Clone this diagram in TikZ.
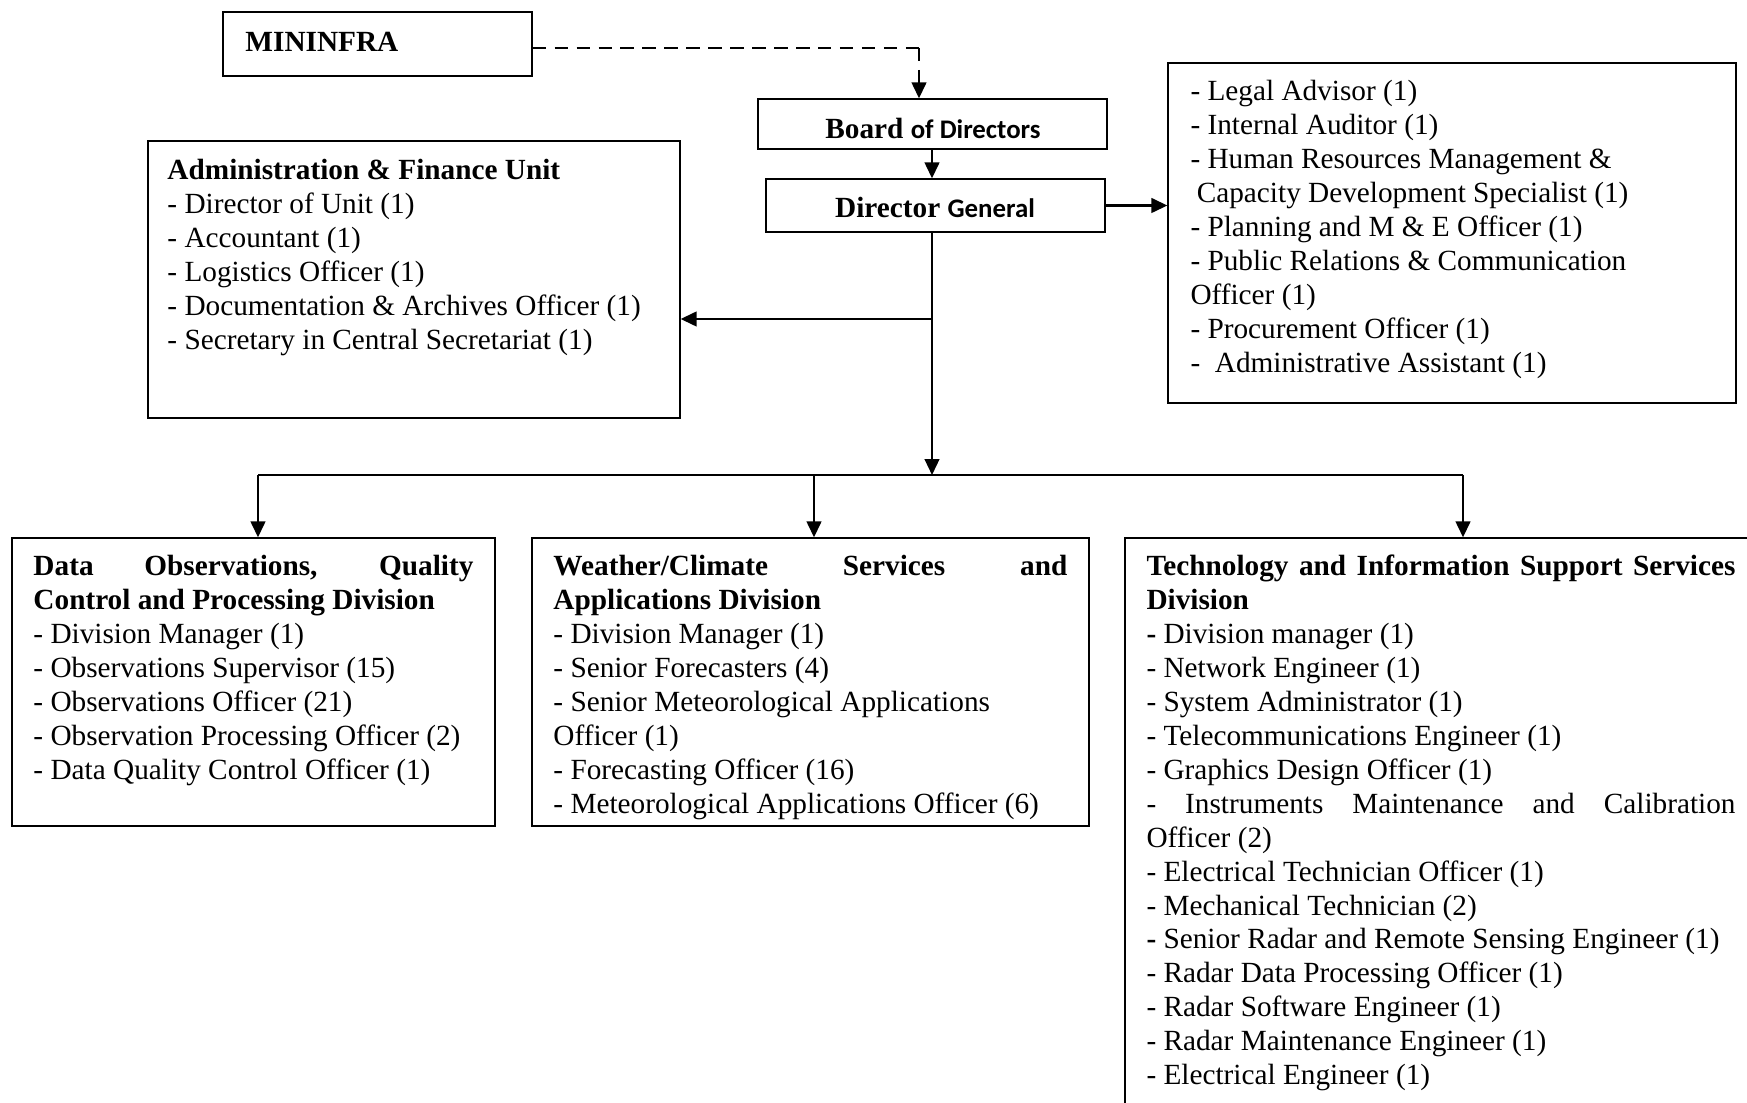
\documentclass[tikz,border=0pt]{standalone}
\usepackage{fontspec}
\setmainfont{Liberation Serif}
\newfontfamily\calib{Carlito}
\usetikzlibrary{arrows.meta,fit}
\newcommand{\jline}[1]{\makebox[\linewidth][s]{#1}}
\begin{document}
\begin{tikzpicture}[x=0.41pt,y=-0.41pt,
  every node/.style={font=\fontsize{12pt}{13.9pt}\selectfont},
  box/.style={draw,line width=0.55pt,inner sep=0pt},
  conn/.style={line width=0.85pt},
  arr/.style={conn,-{Triangle[length=6.5pt,width=6pt]}},
  txt/.style={anchor=base west,inner sep=0pt},
  ctxt/.style={anchor=base,inner sep=0pt},
]
\useasboundingbox (0,0) rectangle (1747,1103);
\clip (0,0) rectangle (1747,1103);

% boxes
\node[box,fit={(223,12) (532,76)}] (mininfra) {};
\node[box,fit={(758,99) (1107,149)}] (board) {};
\node[box,fit={(766,179) (1105,232)}] (dg) {};
\node[box,fit={(148,141) (680,418)}] (admin) {};
\node[box,fit={(1168,63) (1736,403)}] (staff) {};
\node[box,fit={(12,538) (495,826)}] (obs) {};
\node[box,fit={(532,538) (1089,826)}] (wcs) {};
\node[box,fit={(1125,538) (1770,1130)}] (tis) {};

% texts
\node[txt] (tmin) at (245,52) {\textbf{MININFRA}};
\node[ctxt] (tboard) at (933,139) {\textbf{Board} {\calib\bfseries\fontsize{11pt}{13pt}\selectfont of Directors}};
\node[ctxt] (tdg) at (935,218) {\textbf{Director} {\calib\bfseries\fontsize{11pt}{13pt}\selectfont General}};

\node[txt] (tadmin) at (167,179.5) {\parbox[t]{210pt}{%
\textbf{Administration \& Finance Unit}\\
- Director of Unit (1)\\
- Accountant (1)\\
- Logistics Officer (1)\\
- Documentation \& Archives Officer (1)\\
- Secretary in Central Secretariat (1)}};

\node[txt] (tstaff) at (1190,101) {\parbox[t]{225pt}{%
- Legal Advisor (1)\\
- Internal Auditor (1)\\
- Human Resources Management \&\\
\hspace*{2.6pt}Capacity Development Specialist (1)\\
- Planning and M \& E Officer (1)\\
- Public Relations \& Communication\\
Officer (1)\\
- Procurement Officer (1)\\
-\ \ Administrative Assistant (1)}};

\node[txt] (tobs) at (33,576) {\parbox[t]{180.4pt}{%
\textbf{\jline{Data Observations, Quality}}\\
\textbf{Control and Processing Division}\\
- Division Manager (1)\\
- Observations Supervisor (15)\\
- Observations Officer (21)\\
- Observation Processing Officer (2)\\
- Data Quality Control Officer (1)}};

\node[txt] (twcs) at (553,576) {\parbox[t]{210.7pt}{%
\textbf{\jline{Weather/Climate Services and}}\\
\textbf{Applications Division}\\
- Division Manager (1)\\
- Senior Forecasters (4)\\
- Senior Meteorological Applications\\
Officer (1)\\
- Forecasting Officer (16)\\
- Meteorological Applications Officer (6)}};

\node[txt] (ttis) at (1146,576) {\parbox[t]{241.5pt}{%
\textbf{\jline{Technology and Information Support Services}}\\
\textbf{Division}\\
\textbf{-} Division manager (1)\\
- Network Engineer (1)\\
- System Administrator (1)\\
- Telecommunications Engineer (1)\\
- Graphics Design Officer (1)\\
\jline{- Instruments Maintenance and Calibration}\\
Officer (2)\\
- Electrical Technician Officer (1)\\
- Mechanical Technician (2)\\
\textbf{-} Senior Radar and Remote Sensing Engineer (1)\\
- Radar Data Processing Officer (1)\\
- Radar Software Engineer (1)\\
- Radar Maintenance Engineer (1)\\
- Electrical Engineer (1)}};

% connectors
\coordinate (dbend) at (919,48);
\coordinate (hub) at (932,475);
\coordinate (adminjoin) at (932,319);
\coordinate (bl) at (258,475);
\coordinate (bm) at (814,475);
\coordinate (br) at (1463,475);

\draw[conn,dash pattern=on 5.5pt off 3.5pt] (mininfra.east |- dbend) -- (dbend);
\draw[arr,dash pattern=on 5.5pt off 3.5pt] (dbend) -- (dbend |- board.north);
\draw[arr] (hub |- board.south) -- (hub |- dg.north);
\draw[arr] (dg.east) -- (dg.east -| staff.west);
\draw[arr] (hub |- dg.south) -- (hub);
\draw[arr] (adminjoin) -- (adminjoin -| admin.east);
\draw[conn] (bl) -- (br);
\draw[arr] (bl) -- (bl |- obs.north);
\draw[arr] (bm) -- (bm |- wcs.north);
\draw[arr] (br) -- (br |- tis.north);
\end{tikzpicture}
\end{document}
